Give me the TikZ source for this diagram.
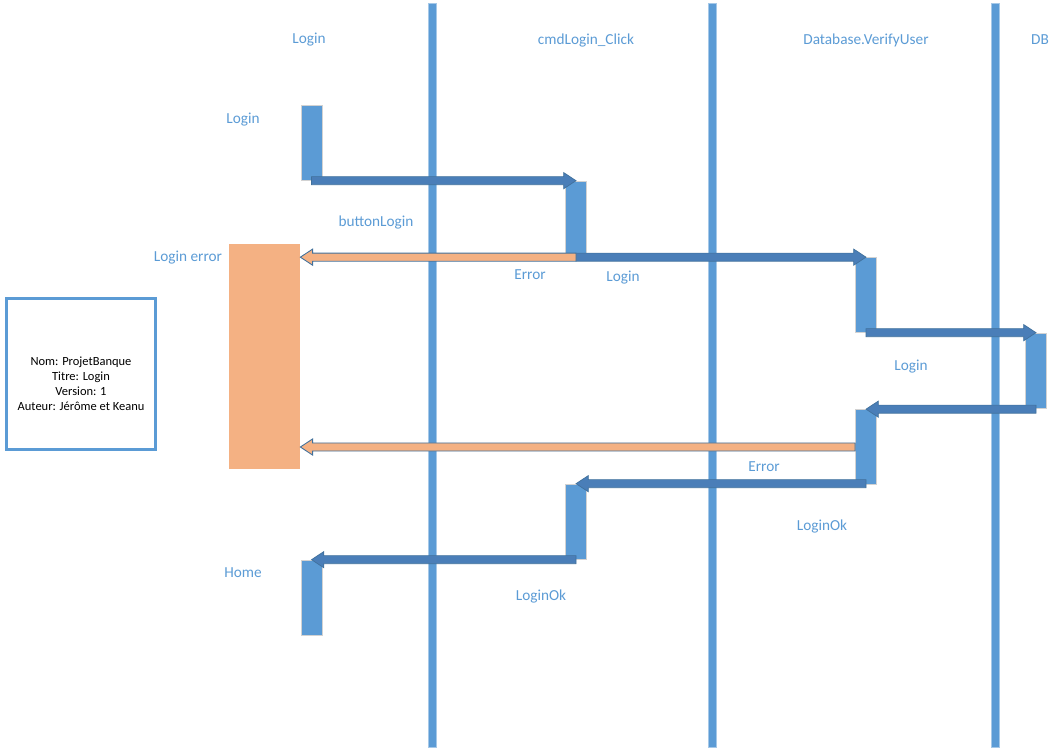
\documentclass[tikz,border=0pt]{standalone}
\usepackage{fontspec}
\setmainfont{Carlito}
\usetikzlibrary{calc}

\definecolor{lineblue}{RGB}{91,155,213}
\definecolor{arrowblue}{RGB}{74,126,184}
\definecolor{edgeblue}{RGB}{65,113,156}
\definecolor{peach}{RGB}{244,177,131}

% horizontal block arrow: style, tail point, tip point (tip's y is used)
\newcommand{\blockarrow}[3]{%
  \draw[#1] let \p1=(#2), \p2=(#3), \p3=($(\p2)!7pt!(\x1,\y2)$) in
    (\x1,\y2+2.3pt) -- (\x3,\y2+2.3pt) -- (\x3,\y2+4.6pt) -- (\x2,\y2)
    -- (\x3,\y2-4.6pt) -- (\x3,\y2-2.3pt) -- (\x1,\y2-2.3pt) -- cycle;}

\tikzset{
  lifeline/.style={fill=lineblue, draw=lineblue!55, line width=0.3pt,
    minimum width=0.16cm, minimum height=14.88cm, inner sep=0},
  act/.style={fill=lineblue, draw=gray!35, line width=0.4pt,
    minimum width=0.42cm, minimum height=1.5cm, inner sep=0},
  lbl/.style={text=lineblue, font=\fontsize{8.7}{10}\selectfont, inner sep=0},
  bluearrow/.style={fill=arrowblue, draw=edgeblue, line width=0.4pt},
  peacharrow/.style={fill=peach, draw=edgeblue, line width=0.5pt},
}

\begin{document}
\begin{tikzpicture}[x=0.02cm, y=-0.02cm]
  \useasboundingbox (0,0) rectangle (1057,755);

  % lifelines
  \node[lifeline] (lcmd) at (432,375) {};
  \node[lifeline] (ldbv) at (712,375) {};
  \node[lifeline] (ldb)  at (995,375) {};

  % column headers
  \node[lbl] (hlogin) at (309,40)  {Login};
  \node[lbl] (hcmd)   at (586,40)  {cmdLogin\_Click};
  \node[lbl] (hdbv)   at (866,40)  {Database.VerifyUser};
  \node[lbl] (hdb)    at (1040,40) {DB};

  % activation boxes
  \node[act] (a1) at (311.5,143) {};
  \node[act] (a2) at (576,218.5) {};
  \node[act] (a3) at (866,295) {};
  \node[act] (a4) at (1036,370.5) {};
  \node[act] (a5) at (866,447) {};
  \node[act] (a6) at (576,521.5) {};
  \node[act] (a7) at (311.5,597.5) {};

  % error bar
  \node[fill=peach, minimum width=1.42cm, minimum height=4.5cm, inner sep=0]
    (err) at (264.5,356.5) {};

  % messages
  \blockarrow{bluearrow}{a1.south}{a2.north}
  \blockarrow{bluearrow}{a2.south}{a3.north}
  \blockarrow{peacharrow}{a2.south}{$(err.east |- a3.north)$}
  \blockarrow{bluearrow}{a3.south}{a4.north}
  \blockarrow{bluearrow}{a4.south}{a5.north}
  \blockarrow{peacharrow}{a5.west}{$(err.east |- a5.west)$}
  \blockarrow{bluearrow}{a5.south}{a6.north}
  \blockarrow{bluearrow}{a6.south}{a7.north}

  % message labels
  \node[lbl] (t1)  at (243,120) {Login};
  \node[lbl] (t2)  at (376,222) {buttonLogin};
  \node[lbl] (t3)  at (188,258) {Login error};
  \node[lbl] (t4)  at (530,275) {Error};
  \node[lbl] (t5)  at (623,278) {Login};
  \node[lbl] (t6)  at (911,367) {Login};
  \node[lbl] (t7)  at (764,467) {Error};
  \node[lbl] (t8)  at (822,526) {LoginOk};
  \node[lbl] (t9)  at (243,573) {Home};
  \node[lbl] (t10) at (541,596) {LoginOk};

  % title block
  \node[draw=lineblue, line width=1.7pt, fill=white,
    minimum width=2.98cm, minimum height=3.02cm, inner sep=0] (info) at (81,374) {};
  \node[align=center, font=\fontsize{7.1}{8.5}\selectfont, inner sep=0] (infotext) at (81,384)
    {Nom: ProjetBanque\\Titre: Login\\Version: 1\\Auteur: Jérôme et Keanu};
\end{tikzpicture}
\end{document}
